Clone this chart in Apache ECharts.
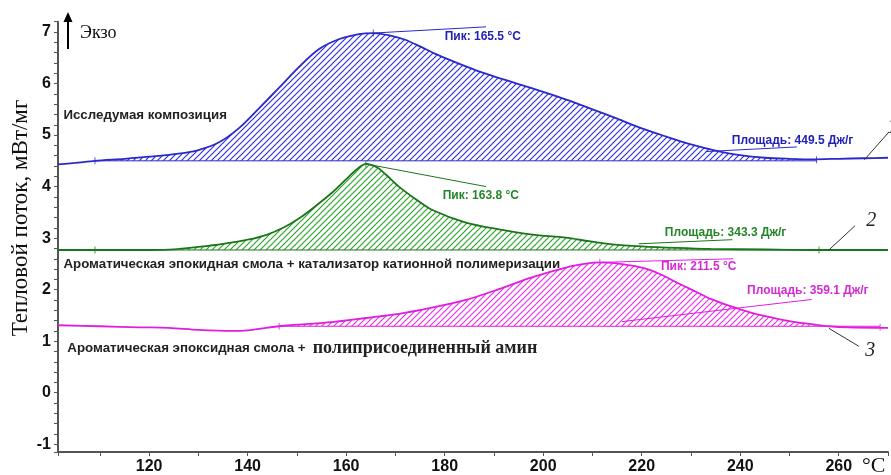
<!DOCTYPE html>
<html><head><meta charset="utf-8">
<script src="https://cdn.jsdelivr.net/npm/echarts@6/dist/echarts.min.js"></script>
<style>html,body{margin:0;padding:0;background:#fff}#c{width:891px;height:475px}</style>
</head><body><div id="c"></div>
<script>
// ---- data ----
const T1 = [101.5,105,109,115,120,126,130,134.2,138.3,142.3,146.4,150.4,154.5,158.5,162.6,165.5,169,172,175,178,182,186,190,195,200,205,210,215,220,225,230,235,240,245,250,255,260,265,270];
const V1 = [4.43,4.46,4.50,4.54,4.58,4.64,4.71,4.86,5.14,5.52,5.92,6.32,6.67,6.86,6.96,6.98,6.93,6.85,6.72,6.58,6.42,6.27,6.14,5.99,5.84,5.68,5.50,5.32,5.13,4.97,4.82,4.70,4.61,4.56,4.54,4.53,4.54,4.55,4.56];
const T2 = [101.5,110,120,125,130,135,140,144,147.4,150.4,153.5,157.1,160.6,162.6,164.0,166.3,168.1,170.7,174.2,177.4,184.3,191,197.8,204.6,209.3,214,220,227,234,245,255,270];
const V2 = [2.77,2.77,2.77,2.78,2.83,2.89,2.97,3.07,3.21,3.38,3.60,3.88,4.20,4.37,4.44,4.37,4.23,4.00,3.75,3.55,3.30,3.17,3.07,3.01,2.94,2.88,2.84,2.81,2.79,2.78,2.77,2.77];
const T3 = [101.5,110,118,124,130,137,140,143.7,146.4,150,157,164,170.7,177.4,184.3,191,197.7,204.6,209,211.5,214,217,220.8,224,227.5,231,234,237.7,241,244.4,247.8,251.2,254.5,258,262,270];
const V3 = [1.31,1.29,1.27,1.26,1.22,1.20,1.21,1.26,1.29,1.32,1.37,1.45,1.53,1.65,1.80,2.01,2.24,2.43,2.51,2.53,2.52,2.48,2.41,2.29,2.12,1.96,1.82,1.69,1.59,1.50,1.43,1.37,1.33,1.29,1.27,1.26];
// baselines [start T, end T, value]
const BASE1 = [109, 255.5, 4.50];
const BASE2 = [109, 256, 2.77];
const BASE3 = [146.4, 268.4, 1.29];
// integration limit / peak markers
const MARK1 = [[109,4.50],[165.5,6.98],[255.5,4.52]];
const MARK2 = [[109,2.77],[164.0,4.44],[256,2.77]];
const MARK3 = [[146.4,1.29],[211.5,2.53],[268.4,1.27]];
const PEAKS = ['Пик: 165.5 °C','Пик: 163.8 °C','Пик: 211.5 °C'];
const AREAS = ['Площадь: 449.5 Дж/г','Площадь: 343.3 Дж/г','Площадь: 359.1 Дж/г'];
const NAMES = ['Исследумая композиция','Ароматическая эпокидная смола + катализатор катионной полимеризации','Ароматическая эпоксидная смола + ','полиприсоединенный амин'];
const X_TICKS = [120,140,160,180,200,220,240,260];
const Y_TICKS = [-1,0,1,2,3,4,5,6,7];

// ---- styles ----
const COL = [
  {line:'#2a2acb', hatch:'#3232dc', text:'#2222b8'},
  {line:'#1b761b', hatch:'#2ea42e', text:'#23862a'},
  {line:'#e01ee0', hatch:'#e432e4', text:'#d42ad4'}
];
function hatch(color){
  const s=6, c=document.createElement('canvas'); c.width=s; c.height=s;
  const ctx=c.getContext('2d'); ctx.strokeStyle=color; ctx.lineWidth=1.2;
  ctx.beginPath();
  ctx.moveTo(0,s); ctx.lineTo(s,0);
  ctx.moveTo(-1,1); ctx.lineTo(1,-1);
  ctx.moveTo(s-1,s+1); ctx.lineTo(s+1,s-1);
  ctx.stroke();
  return {image:c, repeat:'repeat'};
}
const zip=(a,b)=>a.map((t,i)=>[t,b[i]]);
function fillData(T,V,base){return zip(T,V).filter(p=>p[0]>=base[0]&&p[0]<=base[1]);}

const SM=0.3;
const curves=[[T1,V1,BASE1,MARK1],[T2,V2,BASE2,MARK2],[T3,V3,BASE3,MARK3]];
const series=[];
curves.forEach((c,i)=>{
  const [T,V,B,M]=c, col=COL[i];
  series.push({type:'line',data:fillData(T,V,B),smooth:SM,symbol:'none',silent:true,z:1,
    color:col.hatch,lineStyle:{width:0},areaStyle:{origin:B[2],color:hatch(col.hatch),opacity:1}});
  series.push({type:'line',data:[[B[0],B[2]],[B[1],B[2]]],symbol:'none',silent:true,z:2,
    color:col.line,lineStyle:{width:1,color:col.line}});
  series.push({type:'line',data:zip(T,V),smooth:SM,symbol:'none',silent:true,z:3,
    color:col.line,lineStyle:{width:1.8,color:col.line}});
  series.push({type:'scatter',data:M,symbol:'rect',symbolSize:[1,7],silent:true,z:4,
    itemStyle:{color:col.line}});
});

const chart=echarts.init(document.getElementById('c'),null,{renderer:'canvas'});
const boldSans='"Liberation Sans", Arial, sans-serif';
const serif='"Liberation Serif","Times New Roman", serif';
chart.setOption({
  animation:false,
  grid:{left:58,right:2,top:21.7,bottom:22.1},
  xAxis:{type:'value',min:101.5,max:270,splitNumber:17,
    axisLine:{onZero:false,lineStyle:{color:'#555',width:2}},
    axisTick:{show:true,length:4,lineStyle:{color:'#555',width:1}},
    splitLine:{show:false},
    axisLabel:{margin:7,fontFamily:boldSans,fontWeight:'bold',fontSize:16,color:'#111',
      formatter:v=>X_TICKS.some(t=>Math.abs(t-v)<1e-6)?String(Math.round(v)):''}},
  yAxis:{type:'value',min:-1.15,max:7.2,splitNumber:42,
    axisLine:{show:true,onZero:false,lineStyle:{color:'#555',width:2}},
    axisTick:{show:true,length:4,lineStyle:{color:'#555',width:1}},
    splitLine:{show:false},
    axisLabel:{margin:7,fontFamily:boldSans,fontWeight:'bold',fontSize:16,color:'#111',
      formatter:v=>Y_TICKS.some(t=>Math.abs(t-v)<1e-6)?String(Math.round(v)):''}},
  series:series
});

// ---- annotations positioned through the chart's scales ----
const P=(t,v)=>chart.convertToPixel({gridIndex:0},[t,v]);
const g=[];
function line(a,b,color,w){const p=P(a[0],a[1]),q=P(b[0],b[1]);
  g.push({type:'line',silent:true,z:10,shape:{x1:p[0],y1:p[1],x2:q[0],y2:q[1]},style:{stroke:color,lineWidth:w||1}});}
function text(str,at,color,font,align,vAlign){const p=P(at[0],at[1]);
  g.push({type:'text',silent:true,z:11,x:p[0],y:p[1],style:{text:str,fill:color,font:font,align:align||'left',verticalAlign:vAlign||'middle'}});}
const f12='bold 12px '+boldSans;
// peak leaders
line([165.5,6.98],[188.4,7.10],COL[0].line);
line([164.0,4.44],[188.4,4.00],COL[1].line);
line([211.9,2.53],[238.6,2.60],COL[2].line);
// area leaders
line([233.0,4.68],[251.5,4.77],COL[0].line);
line([219.4,2.89],[238.4,2.97],COL[1].line);
line([216.0,1.38],[254.5,1.81],COL[2].line);
text(PEAKS[0],[180.0,6.90],COL[0].text,f12);
text(PEAKS[1],[179.6,3.82],COL[1].text,f12);
text(PEAKS[2],[223.9,2.45],COL[2].text,f12);
text(AREAS[0],[238.3,4.90],COL[0].text,f12);
text(AREAS[1],[224.7,3.11],COL[1].text,f12);
text(AREAS[2],[241.4,1.98],COL[2].text,f12);
const f13='bold 13.3px '+boldSans;
text(NAMES[0],[102.6,5.38],'#222',f13);
text(NAMES[1],[102.6,2.50],'#222',f13);
text(NAMES[2],[103.4,0.87],'#222',f13);
text(NAMES[3],[153.2,0.87],'#222','bold 18px '+serif);
// curve numbers
line([265.2,4.52],[270.2,5.06],'#333');
line([258.0,2.77],[263.3,3.24],'#333');
line([258.0,1.25],[264.1,0.90],'#333');
text('1',[269.8,5.14],'#222','italic 20px '+serif);
text('2',[265.6,3.33],'#222','italic 20px '+serif);
text('3',[265.4,0.82],'#222','italic 20px '+serif);
// axis texts
g.push({type:'text',silent:true,left:862,top:455,style:{text:'°C',fill:'#111',font:'22px '+serif}});
g.push({type:'text',silent:true,x:80,y:33,style:{text:'Экзо',fill:'#111',font:'18px '+serif,verticalAlign:'middle'}});
g.push({type:'line',silent:true,shape:{x1:68,y1:49,x2:68,y2:20},style:{stroke:'#000',lineWidth:2}});
g.push({type:'polygon',silent:true,shape:{points:[[63.5,22],[72.5,22],[68,12]]},style:{fill:'#000'}});
g.push({type:'text',silent:true,x:21,y:218,rotation:Math.PI/2,
  style:{text:'Тепловой поток, мВт/мг',fill:'#111',font:'23px '+serif,align:'center',verticalAlign:'middle'}});
chart.setOption({graphic:g});
</script></body></html>
